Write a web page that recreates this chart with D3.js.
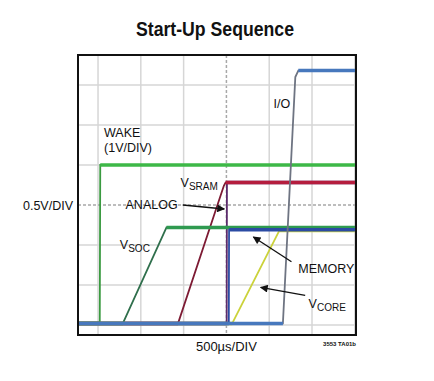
<!DOCTYPE html>
<html lang="en">
<head>
    <meta charset="UTF-8">
    <title>Start-Up Sequence</title>
    <script src="https://d3js.org/d3.v7.min.js"></script>
    <style>
        body { margin: 0; background: #fff; }
        text { font-family: "Liberation Sans", Arial, sans-serif; fill: #111; }
    </style>
</head>
<body>
    <script>
        // time in µs (500µs/DIV), volts at 0.5V/DIV (WAKE at 1V/DIV)
        var timeTicks = [0, 500, 1000, 1500, 2000, 2500, 3000];
        var voltTicks = [0, 0.5, 1, 1.5, 2, 2.5, 3];

        var wake   = [[-234, 0.04], [20, 0.04], [26, 4.0], [3014, 4.0]];
        var vsoc   = [[-234, 0.02], [290, 0.02], [800, 1.22], [3014, 1.22]];
        var vsram  = [[-234, 0.02], [935, 0.02], [1470, 1.74], [1490, 1.78], [3014, 1.78]];
        var analog = [[-234, 0.02], [1503, 0.02], [1506, 1.78], [3014, 1.78]];
        var vcore  = [[-234, 0.02], [1568, 0.02], [2118, 1.18], [3014, 1.18]];
        var memory = [[-234, 0.02], [1528, 0.02], [1531, 1.19], [3014, 1.19]];
        var io     = [[-234, 0.02], [2160, 0.02], [2305, 3.1], [2340, 3.18], [3014, 3.18]];

        var width = 434, height = 381;

        var x = d3.scaleLinear().domain([-234, 3014]).range([78, 356]);
        var y = d3.scaleLinear().domain([-0.125, 3.375]).range([335, 55]);
        var yWake = d3.scaleLinear().domain([-0.25, 6.75]).range([335, 55]);

        var svg = d3.select('body').append('svg')
                    .attr('width', width)
                    .attr('height', height);

        // title
        svg.append('text')
           .attr('x', 215).attr('y', 36)
           .attr('text-anchor', 'middle')
           .attr('font-family', '"Liberation Sans Narrow", "Liberation Sans", Arial, sans-serif')
           .attr('font-weight', 'bold')
           .attr('font-size', 21)
           .attr('textLength', 158)
           .attr('lengthAdjust', 'spacingAndGlyphs')
           .text('Start-Up Sequence');

        // grid
        var grid = svg.append('g');
        grid.selectAll('.vg').data(timeTicks).enter().append('line')
            .attr('x1', function(d) { return x(d); })
            .attr('x2', function(d) { return x(d); })
            .attr('y1', y.range()[1]).attr('y2', y.range()[0])
            .attr('stroke', function(d) { return d === 1500 ? '#a8a8a8' : '#d6d6d6'; })
            .attr('stroke-width', 1.5)
            .attr('stroke-dasharray', function(d) { return d === 1500 ? '3,2' : null; });
        grid.selectAll('.hg').data(voltTicks).enter().append('line')
            .attr('y1', function(d) { return y(d); })
            .attr('y2', function(d) { return y(d); })
            .attr('x1', x.range()[0]).attr('x2', x.range()[1])
            .attr('stroke', function(d) { return d === 1.5 ? '#a8a8a8' : '#d6d6d6'; })
            .attr('stroke-width', 1.5)
            .attr('stroke-dasharray', function(d) { return d === 1.5 ? '3,2' : null; });

        // traces, drawn back to front
        var traces = [
            { data: wake,   scale: yWake, flat: '#3db847', edge: '#3a9a40' },
            { data: analog, scale: y, flat: '#5c2b6c', edge: '#5c2b6c' },
            { data: vsram,  scale: y, flat: '#b51d3e', edge: '#7d1a33' },
            { data: vsoc,   scale: y, flat: '#2f9a50', edge: '#2f6f4c' },
            { data: vcore,  scale: y, flat: '#d2da3e', edge: '#cbd23a' },
            { data: memory, scale: y, flat: '#2b4ba3', edge: '#2b4ba3' },
            { data: io,     scale: y, flat: '#4778bd', edge: '#6e7482' }
        ];

        var plot = svg.append('g');
        traces.forEach(function(tr) {
            var line = d3.line()
                         .x(function(d) { return x(d[0]); })
                         .y(function(d) { return tr.scale(d[1]); });
            plot.append('path')
                .attr('d', line(tr.data))
                .attr('fill', 'none')
                .attr('stroke', tr.edge)
                .attr('stroke-width', 1.8);
            var flats = d3.pairs(tr.data).filter(function(p) { return p[0][1] === p[1][1]; });
            plot.selectAll(null).data(flats).enter().append('line')
                .attr('x1', function(p) { return x(p[0][0]); })
                .attr('x2', function(p) { return x(p[1][0]); })
                .attr('y1', function(p) { return tr.scale(p[0][1]); })
                .attr('y2', function(p) { return tr.scale(p[1][1]); })
                .attr('stroke', tr.flat)
                .attr('stroke-width', 3.5);
        });

        // frame
        svg.append('rect')
           .attr('x', x.range()[0]).attr('y', y.range()[1])
           .attr('width', x.range()[1] - x.range()[0])
           .attr('height', y.range()[0] - y.range()[1])
           .attr('fill', 'none')
           .attr('stroke', '#111')
           .attr('stroke-width', 2);

        // arrows
        svg.append('defs').append('marker')
           .attr('id', 'head')
           .attr('viewBox', '0 0 10 10')
           .attr('refX', 9).attr('refY', 5)
           .attr('markerWidth', 8).attr('markerHeight', 6)
           .attr('orient', 'auto')
           .append('path').attr('d', 'M0,0 L10,5 L0,10 Z').attr('fill', '#111');

        var arrows = [
            [[990, 1.5], [1475, 1.45]],     // ANALOG
            [[2260, 0.79], [1815, 1.1]],    // MEMORY
            [[2420, 0.37], [1900, 0.47]]    // VCORE
        ];
        svg.selectAll('.arr').data(arrows).enter().append('line')
           .attr('x1', function(d) { return x(d[0][0]); })
           .attr('y1', function(d) { return y(d[0][1]); })
           .attr('x2', function(d) { return x(d[1][0]); })
           .attr('y2', function(d) { return y(d[1][1]); })
           .attr('stroke', '#111')
           .attr('stroke-width', 1.3)
           .attr('marker-end', 'url(#head)');

        // labels
        function label(t, v, txt, sub, anchor, size) {
            var el = svg.append('text')
                        .attr('x', x(t)).attr('y', y(v))
                        .attr('font-size', size || 12.5)
                        .attr('text-anchor', anchor || 'start');
            el.append('tspan').text(txt);
            if (sub) {
                el.append('tspan').attr('font-size', 10).attr('dy', 3).text(sub);
            }
            return el;
        }
        label(70, 2.35, 'WAKE');
        label(70, 2.16, '(1V/DIV)');
        label(965, 1.73, 'V', 'SRAM');
        label(930, 1.45, 'ANALOG', null, 'end');
        label(255, 0.95, 'V', 'SOC');
        label(2050, 2.71, 'I/O');
        label(2340, 0.65, 'MEMORY');
        label(2460, 0.21, 'V', 'CORE');

        svg.append('text')
           .attr('x', 73).attr('y', y(1.5) + 4.5)
           .attr('text-anchor', 'end')
           .attr('font-size', 12.5)
           .text('0.5V/DIV');

        svg.append('text')
           .attr('x', x(1500)).attr('y', 351)
           .attr('text-anchor', 'middle')
           .attr('font-size', 13)
           .text('500µs/DIV');

        svg.append('text')
           .attr('x', x(3014)).attr('y', 346)
           .attr('text-anchor', 'end')
           .attr('font-size', 6)
           .attr('font-weight', 'bold')
           .text('3553 TA01b');
    </script>
</body>
</html>
